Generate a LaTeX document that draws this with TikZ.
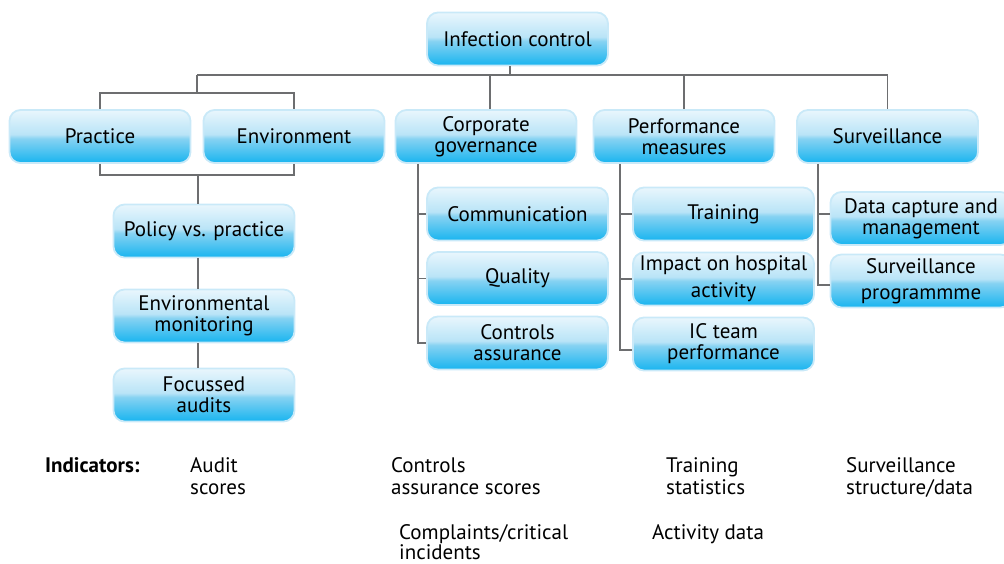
\documentclass[tikz,border=0pt]{standalone}
\usepackage{fontspec}
\setmainfont{PT Sans}
\definecolor{boxedge}{HTML}{C9E9F8}
\definecolor{glossTop}{HTML}{F3FAFE}
\definecolor{glossMidA}{HTML}{B9E4F7}
\definecolor{glossMidB}{HTML}{86D2F2}
\definecolor{glossBot}{HTML}{00AEEF}
\definecolor{wire}{HTML}{6D6E70}
% glossy button fill: light upper half, saturated lower half
\pgfdeclareverticalshading{gloss}{100bp}{
  color(0bp)=(glossBot); color(20bp)=(glossBot); color(48bp)=(glossMidB);
  color(52bp)=(glossMidA); color(80bp)=(glossTop); color(100bp)=(glossTop)}
\tikzset{
  box/.style={draw=boxedge, line width=1.8, rounded corners=11, shading=gloss,
    minimum width=181, minimum height=53, inner sep=0, align=center,
    font=\fontsize{21}{21}\selectfont},
  wireline/.style={draw=wire, line width=1.6},
  note/.style={anchor=north west, inner sep=0, align=left,
    font=\fontsize{21}{22}\selectfont}
}
\begin{document}
\begin{tikzpicture}[x=1pt,y=-1pt]
\useasboundingbox (0,0) rectangle (1004,564);
\clip (0,0) rectangle (1004,564);

% junction coordinates
\coordinate (bar) at (510,75);
\coordinate (peTop) at (197,93);
\coordinate (peBot) at (198,175);
\coordinate (cgL) at (418,0);
\coordinate (pmL) at (620,0);
\coordinate (svL) at (818,0);

% top level
\node[box] (ic) at (517.5,39) {Infection control};
\node[box] (pr) at (100,136.5) {Practice};
\node[box] (en) at (294,136.5) {Environment};
\node[box] (cg) at (486,136.5) {Corporate\\governance};
\node[box] (pm) at (684,136.5) {Performance\\measures};
\node[box] (sv) at (887.5,136.5) {Surveillance};

\draw[wireline] (ic.south -| bar) -- (bar);
\draw[wireline] (peTop |- bar) -| (sv.north);
\draw[wireline] (peTop) -- (peTop |- bar);
\draw[wireline] (pr.north) |- (peTop) -| (en.north);
\draw[wireline] ([xshift=4]cg.north) -- ([xshift=4]cg.north |- bar);
\draw[wireline] (pm.north) -- (pm.north |- bar);

% practice / environment column
\node[box] (pv) at (204,231) {Policy vs. practice};
\node[box] (em) at (204,316) {Environmental\\monitoring};
\node[box] (fa) at (204,395) {Focussed\\audits};
\draw[wireline] (pr.south) |- (peBot) -| (en.south);
\draw[wireline] (peBot) -- (peBot |- pv.north);
\draw[wireline] (pv.south -| peBot) -- (em.north -| peBot);
\draw[wireline] (em.south -| peBot) -- (fa.north -| peBot);

% corporate governance column
\node[box] (co) at (517.5,214) {Communication};
\node[box] (qu) at (517.5,278.5) {Quality};
\node[box] (ca) at (517.5,343) {Controls\\assurance};
\draw[wireline] (cg.south -| cgL) |- (ca.west);
\draw[wireline] (cgL |- co.west) -- (co.west);
\draw[wireline] (cgL |- qu.west) -- (qu.west);

% performance measures column
\node[box] (tr) at (723.5,214) {Training};
\node[box] (ih) at (723.5,279) {Impact on hospital\\[6pt]activity};
\node[box] (it) at (723.5,344) {IC team\\performance};
\draw[wireline] (pm.south -| pmL) |- ([yshift=-6]it.west);
\draw[wireline] (pmL |- tr.west) -- (tr.west);
\draw[wireline] (pmL |- ih.west) -- (ih.west);

% surveillance column
\node[box] (dc) at (921,218.5) {Data capture and\\management};
\node[box] (sp) at (921,281) {Surveillance\\[5pt]programmme};
\draw[wireline] (sv.south -| svL) |- ([yshift=-4]sp.west);
\draw[wireline] (svL |- tr.west) -- (dc.west |- tr.west);

% indicators
\node[note, font=\fontsize{21}{22}\selectfont\bfseries] (ind) at (45,457) {Indicators:};
\node[note] (i1) at (190,457) {Audit\\scores};
\node[note] (i2) at (391,457) {Controls\\assurance scores};
\node[note, font=\fontsize{21}{20}\selectfont] (i3) at (399,524) {Complaints/critical\\incidents};
\node[note] (i4) at (666,457) {Training\\statistics};
\node[note] (i5) at (652,524) {Activity data};
\node[note] (i6) at (846,457) {Surveillance\\structure/data};
\end{tikzpicture}
\end{document}
